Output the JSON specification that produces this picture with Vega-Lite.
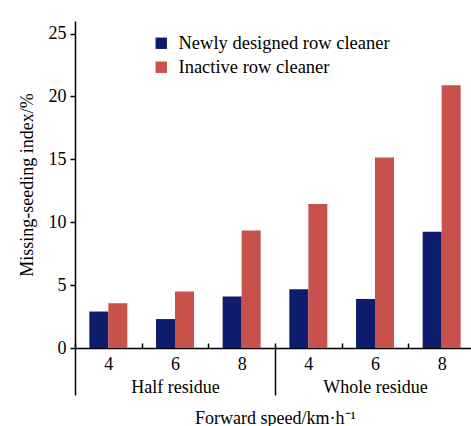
{
  "$schema": "https://vega.github.io/schema/vega-lite/v6.json",
  "autosize": "none",
  "padding": {"left": 75, "top": 21, "right": 0, "bottom": 78},
  "width": 396,
  "height": 327,
  "config": {
    "font": "Liberation Serif",
    "view": {"stroke": null},
    "axis": {"grid": false, "domainColor": "#000", "tickColor": "#000", "labelColor": "#000", "titleColor": "#000", "titleFontWeight": "normal", "labelFontSize": 18, "titleFontSize": 18, "domainWidth": 1.5, "tickWidth": 1.5}
  },
  "data": {
    "values": [
      {"residue": "Half residue", "cat": "Half residue|4", "cleaner": "Newly designed row cleaner", "value": 2.9},
      {"residue": "Half residue", "cat": "Half residue|4", "cleaner": "Inactive row cleaner", "value": 3.56},
      {"residue": "Half residue", "cat": "Half residue|6", "cleaner": "Newly designed row cleaner", "value": 2.3},
      {"residue": "Half residue", "cat": "Half residue|6", "cleaner": "Inactive row cleaner", "value": 4.5},
      {"residue": "Half residue", "cat": "Half residue|8", "cleaner": "Newly designed row cleaner", "value": 4.1},
      {"residue": "Half residue", "cat": "Half residue|8", "cleaner": "Inactive row cleaner", "value": 9.35},
      {"residue": "Whole residue", "cat": "Whole residue|4", "cleaner": "Newly designed row cleaner", "value": 4.67},
      {"residue": "Whole residue", "cat": "Whole residue|4", "cleaner": "Inactive row cleaner", "value": 11.45},
      {"residue": "Whole residue", "cat": "Whole residue|6", "cleaner": "Newly designed row cleaner", "value": 3.9},
      {"residue": "Whole residue", "cat": "Whole residue|6", "cleaner": "Inactive row cleaner", "value": 15.15},
      {"residue": "Whole residue", "cat": "Whole residue|8", "cleaner": "Newly designed row cleaner", "value": 9.25},
      {"residue": "Whole residue", "cat": "Whole residue|8", "cleaner": "Inactive row cleaner", "value": 20.9}
    ]
  },
  "layer": [
    {
      "mark": {"type": "bar"},
      "encoding": {
        "x": {
          "field": "cat", "type": "nominal", "sort": null,
          "scale": {"range": [0, 400], "paddingInner": 0, "paddingOuter": 0},
          "axis": {"title": null, "tickBand": "extent", "tickSize": -5, "labelPadding": 12, "labelAngle": 0, "labelExpr": "split(datum.value, '|')[1]"}
        },
        "xOffset": {
          "field": "cleaner", "type": "nominal", "sort": ["Newly designed row cleaner", "Inactive row cleaner"],
          "scale": {"paddingInner": 0, "paddingOuter": 0.755}
        },
        "y": {
          "field": "value", "type": "quantitative",
          "scale": {"domain": [0, 25]},
          "axis": {"title": "Missing-seeding index/%", "values": [0, 5, 10, 15, 20, 25], "tickSize": 5, "labelPadding": 4, "titlePadding": 12}
        },
        "color": {
          "field": "cleaner", "type": "nominal", "sort": ["Newly designed row cleaner", "Inactive row cleaner"],
          "scale": {"domain": ["Newly designed row cleaner", "Inactive row cleaner"], "range": ["#0e1c6c", "#c8514c"]},
          "legend": {"title": null, "orient": "none", "legendX": 77, "legendY": 13, "symbolType": "square", "symbolSize": 130, "symbolStrokeWidth": 0, "symbolOpacity": 1, "labelFontSize": 18.5, "labelColor": "#000", "labelOffset": 8, "labelLimit": 0, "rowPadding": 5}
        }
      }
    },
    {
      "mark": {"type": "bar", "opacity": 0},
      "encoding": {
        "x": {
          "field": "residue", "type": "nominal", "sort": null,
          "scale": {"range": [0, 400], "paddingInner": 0, "paddingOuter": 0},
          "axis": {"title": "Forward speed/km·h⁻¹", "orient": "bottom", "domain": false, "tickBand": "extent", "tickExtra": true, "tickSize": 47, "labelPadding": -17, "labelAngle": 0, "titlePadding": 13}
        },
        "y": {"field": "value", "type": "quantitative", "stack": null}
      }
    }
  ],
  "resolve": {"scale": {"x": "independent"}}
}
